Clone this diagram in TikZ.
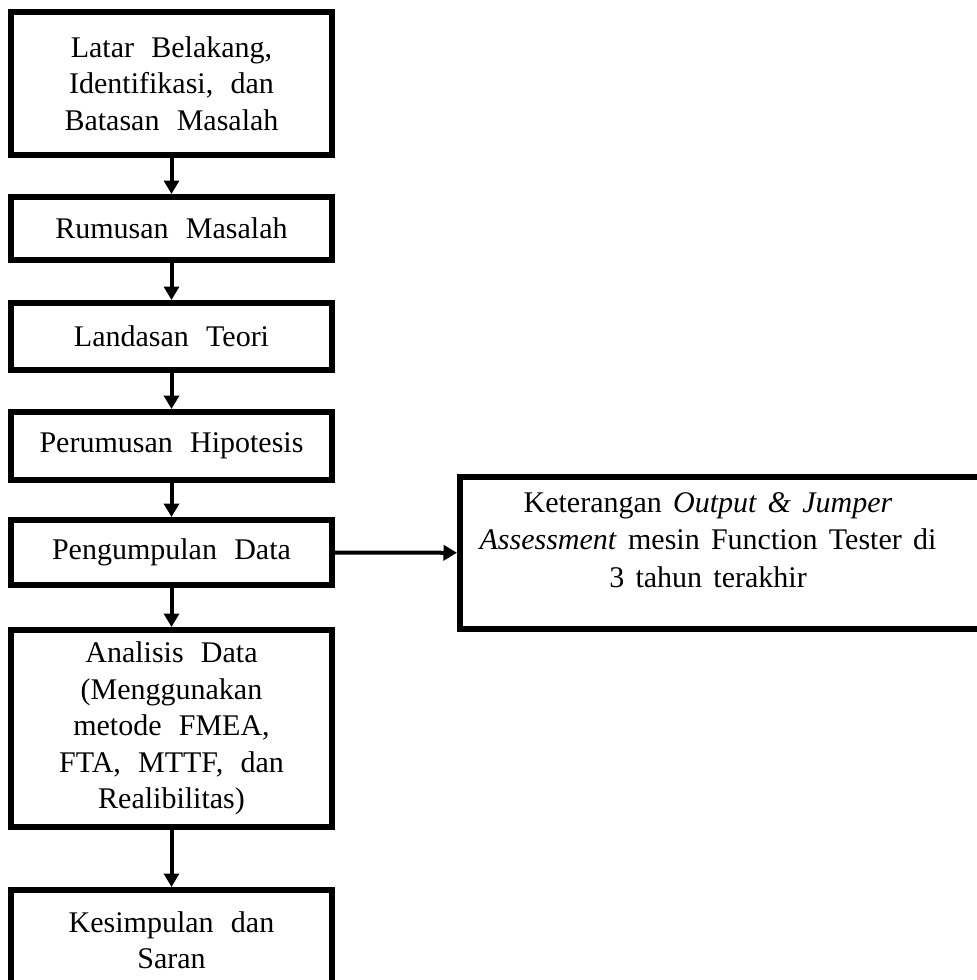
\documentclass[tikz,border=0pt]{standalone}
\usepackage{fontspec}
\setmainfont{Liberation Serif}[WordSpace=2.3]
\newfontfamily\ketfont{Liberation Serif}[WordSpace=1.5]
\usetikzlibrary{arrows.meta}

\begin{document}
\begin{tikzpicture}[x=0.4pt,y=-0.4pt,
  box/.style={draw,rectangle,line width=2.4pt,inner sep=0pt,minimum width=128.4pt,align=center,font=\fontsize{12}{14.6}\selectfont},
  arr/.style={-{Triangle[length=5.4pt,width=6pt]},line width=1.6pt}]
\useasboundingbox (0,0) rectangle (977,980);
\clip (0,0) rectangle (977,980);
% Left column
\node[box,minimum height=57.2pt] (latar) at (171.5,83.5) {Latar Belakang,\\ Identifikasi, dan\\ Batasan Masalah};
\node[box,minimum height=25.2pt] (rumusan) at (171.5,228.5) {Rumusan Masalah};
\node[box,minimum height=26.8pt] (teori) at (171.5,336.5) {Landasan Teori};
\node[box,minimum height=27.2pt] (hipotesis) at (171.5,446) {Perumusan Hipotesis};
\node[box,minimum height=26pt] (kumpul) at (171.5,552.5) {Pengumpulan Data};
\node[box,minimum height=78.8pt] (analisis) at (171.5,728.5) {Analisis Data\\ (Menggunakan\\ metode FMEA,\\ FTA, MTTF, dan\\ Realibilitas)};
\node[box,minimum height=40pt] (simpul) at (171.5,940) {Kesimpulan dan\\ Saran};

% Right box
\node[box,minimum width=216pt,minimum height=60.8pt] (ket) at (730,553) {};
\node[align=center,inner sep=0pt,font=\ketfont\fontsize{12}{15}\selectfont] (ketlbl) at (708,540)
  {Keterangan \textit{Output \& Jumper}\\ \textit{Assessment} mesin Function Tester di\\ 3 tahun terakhir};

% Arrows
\draw[arr] (latar) -- (rumusan);
\draw[arr] (rumusan) -- (teori);
\draw[arr] (teori) -- (hipotesis);
\draw[arr] (hipotesis) -- (kumpul);
\draw[arr] (kumpul) -- (analisis);
\draw[arr] (analisis) -- (simpul);
\draw[arr] (kumpul) -- (ket);
\end{tikzpicture}
\end{document}
